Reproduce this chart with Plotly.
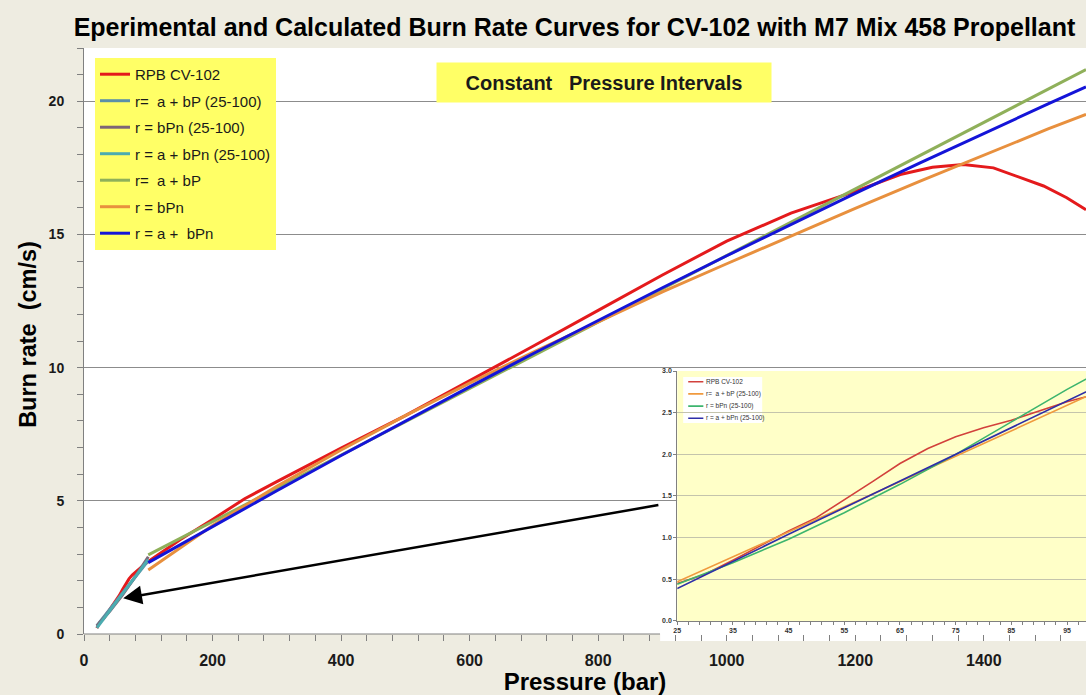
import plotly.graph_objects as go

# ---- main chart: pressure (bar) vs burn rate (cm/s) ----
rpb_p = [20, 25, 30, 35, 40, 45, 50, 55, 60, 65, 70, 75, 80, 85, 90, 95, 100,
         150, 200, 250, 300, 400, 500, 600, 700, 800, 900, 1000, 1100, 1200,
         1270, 1320, 1368, 1415, 1452, 1493, 1529, 1559]
rpb_r = [0.22, 0.45, 0.56, 0.73, 0.91, 1.08, 1.24, 1.45, 1.67, 1.89, 2.07, 2.21, 2.32, 2.41, 2.52, 2.63, 2.72,
         3.55, 4.3, 5.08, 5.72, 6.98, 8.2, 9.5, 10.82, 12.15, 13.48, 14.75, 15.8, 16.62,
         17.25, 17.52, 17.63, 17.5, 17.19, 16.82, 16.38, 15.93]

low_p = [20, 40, 60, 80, 100]
low_lin_r = [0.31, 0.92, 1.53, 2.15, 2.76]
low_pow_r = [0.30, 0.85, 1.47, 2.16, 2.90]
low_offpow_r = [0.23, 0.87, 1.51, 2.15, 2.80]

lin_p = [100, 400, 800, 1200, 1559]
lin_r = [2.97, 6.72, 11.72, 16.71, 21.19]

full_p = [100, 200, 300, 400, 500, 600, 700, 800, 900, 1000, 1100, 1200, 1300, 1400, 1500, 1559]
pow_r = [2.4, 4.07, 5.55, 6.91, 8.2, 9.42, 10.59, 11.73, 12.84, 13.9, 14.95, 15.98, 16.99, 17.98, 18.96, 19.51]
offpow_r = [2.68, 4.04, 5.38, 6.7, 8.0, 9.28, 10.54, 11.78, 13.0, 14.2, 15.38, 16.54, 17.68, 18.8, 19.9, 20.54]

main_names = ["RPB CV-102", "r=\u00a0 a + bP (25-100)", "r = bPn (25-100)", "r = a + bPn (25-100)",
              "r=\u00a0 a + bP", "r = bPn", "r = a +\u00a0 bPn"]
main_colors = ["#E41A1C", "#5B8FA8", "#7E6576", "#4BACB0", "#8FB05A", "#E8903E", "#1414D8"]

# ---- inset: 25-100 bar ----
inset_p = [25, 30, 35, 40, 45, 50, 55, 60, 65, 70, 75, 80, 85, 90, 95, 100]
inset_rpb_r = [0.45, 0.56, 0.73, 0.91, 1.08, 1.24, 1.45, 1.67, 1.89, 2.07, 2.21, 2.32, 2.41, 2.52, 2.63, 2.72]
inset_lin_p = [25, 60, 100]
inset_lin_r = [0.47, 1.52, 2.74]
inset_fit_p = [25, 35, 45, 55, 65, 75, 85, 95, 100]
inset_pow_r = [0.44, 0.70, 0.98, 1.30, 1.64, 2.00, 2.39, 2.78, 2.96]
inset_offpow_r = [0.39, 0.72, 1.04, 1.36, 1.68, 2.00, 2.32, 2.64, 2.80]

inset_names = ["RPB CV-102", "r=\u00a0 a + bP (25-100)", "r = bPn (25-100)", "r = a + bPn (25-100)"]
inset_colors = ["#D2413C", "#F09A3E", "#3DB56E", "#2E2EA8"]

inset_xrange = [25, 98.4]
inset_yrange = [0, 3.0]

FONT = "Liberation Sans, Arial, sans-serif"


def ix(f):
	return inset_xrange[0] + f * (inset_xrange[1] - inset_xrange[0])


def iy(f):
	return inset_yrange[0] + f * (inset_yrange[1] - inset_yrange[0])


def main():
	fig = go.Figure()

	main_series = [(rpb_p, rpb_r), (low_p, low_lin_r), (low_p, low_pow_r), (low_p, low_offpow_r),
	               (lin_p, lin_r), (full_p, pow_r), (full_p, offpow_r)]
	for (xs, ys), name, col in zip(main_series, main_names, main_colors):
		fig.add_trace(go.Scatter(x=xs, y=ys, mode="lines", name=name, legendgroup=name,
		                         line=dict(color=col, width=3)))

	inset_series = [(inset_p, inset_rpb_r), (inset_lin_p, inset_lin_r),
	                (inset_fit_p, inset_pow_r), (inset_fit_p, inset_offpow_r)]
	for (xs, ys), name, col in zip(inset_series, inset_names, inset_colors):
		fig.add_trace(go.Scatter(x=xs, y=ys, mode="lines", name=name, showlegend=False,
		                         xaxis="x2", yaxis="y2", line=dict(color=col, width=1.6)))

	shapes = [
		# main x axis line, hidden under the inset
		dict(type="line", xref="paper", yref="paper", x0=0, x1=0.575, y0=0, y1=0,
		     line=dict(color="#808080", width=1), layer="below"),
		# white strip under the inset tick labels
		dict(type="rect", xref="paper", yref="paper", x0=0.575, x1=1.0, y0=-0.012, y1=0.022,
		     fillcolor="white", line=dict(width=0), layer="below"),
		# inset plot area
		dict(type="rect", xref="x2", yref="y2", x0=inset_xrange[0], x1=inset_xrange[1],
		     y0=inset_yrange[0], y1=inset_yrange[1], fillcolor="#FFFFC8", line=dict(width=0), layer="below"),
		# inset legend box
		dict(type="rect", xref="x2", yref="y2", x0=ix(0.0147), x1=ix(0.208), y0=iy(0.792), y1=iy(0.976),
		     fillcolor="white", line=dict(width=0), layer="below"),
	]
	annotations = []
	for i, (name, col) in enumerate(zip(inset_names, inset_colors)):
		yf = 0.957 - i * 0.0487
		shapes.append(dict(type="line", xref="x2", yref="y2", x0=ix(0.027), x1=ix(0.064), y0=iy(yf), y1=iy(yf),
		                   line=dict(color=col, width=1.6), layer="below"))
		annotations.append(dict(xref="x2", yref="y2", x=ix(0.066), y=iy(yf), text=name, showarrow=False,
		                        xanchor="left", yanchor="middle", font=dict(size=6.5, color="#333333")))

	annotations.append(dict(xref="paper", yref="paper", x=0.519, y=0.941, xanchor="center", yanchor="middle",
	                        text="Constant\u00a0\u00a0 Pressure Intervals", showarrow=False,
	                        width=332, height=37, bgcolor="#FFFF66",
	                        font=dict(size=20, weight="bold", color="#1a1a1a")))
	# y axis title
	annotations.append(dict(xref="paper", yref="paper", x=-0.056, y=0.512, xanchor="center", yanchor="middle",
	                        text="Burn rate\u00a0 (cm/s)", textangle=-90, showarrow=False,
	                        font=dict(size=23.5, weight="bold", color="black")))
	# arrow from the inset down to the 25-100 bar region
	annotations.append(dict(xref="x", yref="y", x=61, y=1.34, axref="x", ayref="y", ax=896, ay=4.85,
	                        text="", showarrow=True, arrowhead=2, arrowsize=1.5, arrowwidth=2.5,
	                        arrowcolor="black", standoff=0))

	fig.update_layout(
		width=1086, height=695,
		margin=dict(l=84, r=0, t=48, b=61),
		paper_bgcolor="#EEECE1",
		plot_bgcolor="white",
		font=dict(family=FONT, color="#1a1a1a"),
		title=dict(text="Eperimental and Calculated Burn Rate Curves for CV-102 with M7 Mix 458 Propellant",
		           x=0.529, xanchor="center", y=0.961, yanchor="middle", yref="container",
		           font=dict(family=FONT, size=25, weight="bold", color="black")),
		legend=dict(x=0.011, y=0.983, xanchor="left", yanchor="top", bgcolor="#FFFF66",
		            font=dict(size=15, color="#1a1a1a"), tracegroupgap=4, itemwidth=30),
		xaxis=dict(range=[0, 1559], tick0=0, dtick=200, ticks="outside", ticklen=6, tickcolor="#808080",
		           minor=dict(dtick=40, ticks="outside", ticklen=6, tickcolor="#808080"),
		           showgrid=False, zeroline=False, showline=False, ticklabelstandoff=6,
		           tickfont=dict(size=16, weight="bold", color="#1a1a1a"),
		           title=dict(text="Pressure (bar)", standoff=6, font=dict(size=24, weight="bold", color="black"))),
		yaxis=dict(range=[0, 22], tick0=0, dtick=5, ticks="outside", ticklen=6, tickcolor="#808080",
		           minor=dict(dtick=1, ticks="outside", ticklen=6, tickcolor="#808080"),
		           showgrid=True, gridcolor="#8C8C8C", zeroline=False, showline=True, linecolor="#808080",
		           ticklabelstandoff=10, tickfont=dict(size=14, weight="bold", color="#1a1a1a")),
		xaxis2=dict(domain=[0.592, 1.0], anchor="y2", range=inset_xrange, tick0=25, dtick=10,
		            ticks="outside", ticklen=3, tickcolor="#808080",
		            minor=dict(tick0=25, dtick=2, ticks="outside", ticklen=3, tickcolor="#808080"),
		            showgrid=False, zeroline=False, showline=True, linecolor="#808080",
		            tickfont=dict(size=7, weight="bold", color="#333333")),
		yaxis2=dict(domain=[0.0222, 0.4488], anchor="x2", range=inset_yrange, dtick=0.5, tickformat=".1f",
		            ticks="outside", ticklen=3, tickcolor="#808080",
		            showgrid=True, gridcolor="#C4C4AC", zeroline=False, showline=True, linecolor="#808080",
		            tickfont=dict(size=7, weight="bold", color="#333333")),
		shapes=shapes,
		annotations=annotations,
	)
	# drop the default page margin so the figure sits at the window corner
	fig.write_html("out.html", config={"displayModeBar": False},
	               post_script="document.body.style.margin='0';")


if __name__ == '__main__':
	main()
